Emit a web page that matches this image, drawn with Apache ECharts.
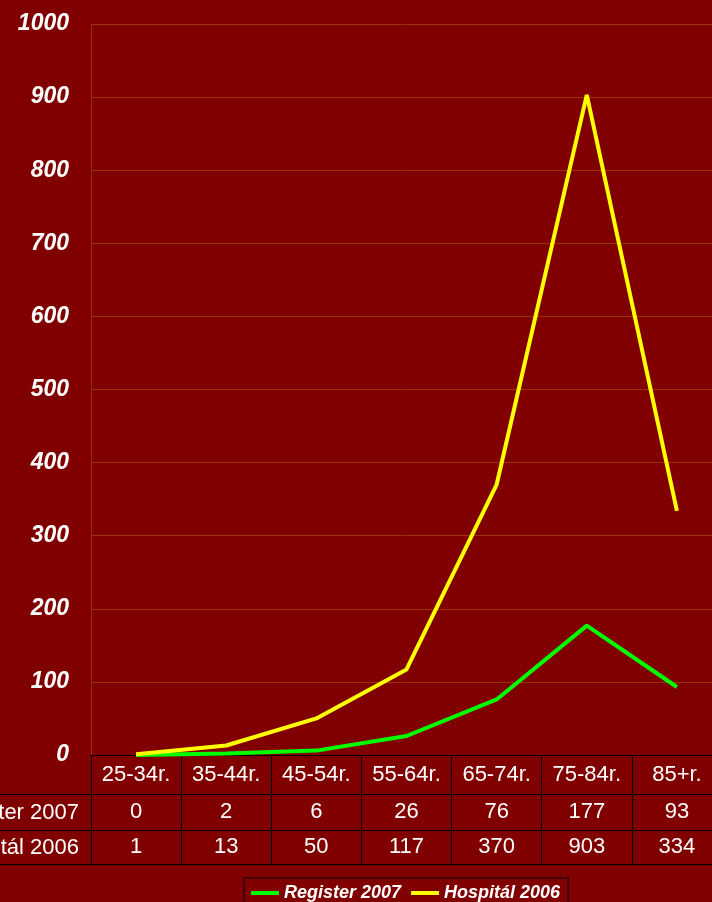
<!DOCTYPE html>
<html><head><meta charset="utf-8">
<script src="https://cdn.jsdelivr.net/npm/echarts@6/dist/echarts.min.js"></script>
<style>html,body{margin:0;padding:0;background:#800000;overflow:hidden;width:712px;height:902px}#c{width:722px;height:902px}</style>
</head><body><div id="c"></div>
<script>
const categories = ['25-34r.','35-44r.','45-54r.','55-64r.','65-74r.','75-84r.','85+r.'];
const register2007 = [0, 2, 6, 26, 76, 177, 93];
const hospital2006 = [1, 13, 50, 117, 370, 903, 334];
const seriesNames = ['Register 2007', 'Hospitál 2006'];
const yTicks = {min: 0, max: 1000, interval: 100};

const FONT = "'Liberation Sans', Arial, sans-serif";
const chart = echarts.init(document.getElementById('c'), null, {renderer: 'canvas'});
const tableLabel = {color: '#fff', fontSize: 22, fontFamily: FONT, lineHeight: 22, interval: 0};
chart.setOption({
  backgroundColor: '#800000',
  animation: false,
  grid: {left: 91, right: 0, top: 24, bottom: 147, containLabel: false},
  legend: {
    data: seriesNames, left: 244, top: 878, orient: 'horizontal',
    icon: 'rect', itemWidth: 28, itemHeight: 4, itemGap: 10,
    padding: [5, 8, 5, 7], borderColor: '#000', borderWidth: 1,
    textStyle: {color: '#fff', fontSize: 18, fontWeight: 'bold', fontStyle: 'italic', fontFamily: FONT, lineHeight: 20}
  },
  xAxis: [
    {type: 'category', data: categories, boundaryGap: true,
     axisLine: {show: true, lineStyle: {color: '#000', width: 1}},
     axisTick: {show: true, length: 109, lineStyle: {color: '#000', width: 1}},
     axisLabel: Object.assign({margin: 9}, tableLabel), splitLine: {show: false}},
    {type: 'category', data: register2007.map(String), position: 'bottom', offset: 39,
     axisLine: {show: false}, axisTick: {show: false},
     axisLabel: Object.assign({margin: 7}, tableLabel)},
    {type: 'category', data: hospital2006.map(String), position: 'bottom', offset: 75,
     axisLine: {show: false}, axisTick: {show: false},
     axisLabel: Object.assign({margin: 6}, tableLabel)}
  ],
  yAxis: {
    type: 'value', min: yTicks.min, max: yTicks.max, interval: yTicks.interval,
    axisLine: {show: true, lineStyle: {color: '#993300', width: 1}},
    axisTick: {show: false},
    splitLine: {show: true, lineStyle: {color: '#993300', width: 1}},
    axisLabel: {color: '#fff', fontSize: 23, fontWeight: 'bold', fontStyle: 'italic', fontFamily: FONT, margin: 22,
                formatter: v => String(v)}
  },
  series: [
    {name: seriesNames[0], type: 'line', data: register2007, xAxisIndex: 0, symbol: 'none',
     lineStyle: {color: '#00ff00', width: 4}, itemStyle: {color: '#00ff00'}, z: 3},
    {name: seriesNames[1], type: 'line', data: hospital2006, xAxisIndex: 0, symbol: 'none',
     lineStyle: {color: '#ffff00', width: 4}, itemStyle: {color: '#ffff00'}, z: 4}
  ],
  graphic: [
    {type: 'line', shape: {x1: 0, y1: 794.5, x2: 722, y2: 794.5}, style: {stroke: '#000', lineWidth: 1}},
    {type: 'line', shape: {x1: 0, y1: 830.5, x2: 722, y2: 830.5}, style: {stroke: '#000', lineWidth: 1}},
    {type: 'line', shape: {x1: 0, y1: 864.5, x2: 722, y2: 864.5}, style: {stroke: '#000', lineWidth: 1}},
    {type: 'text', x: 79, y: 813, style: {text: seriesNames[0], fill: '#fff', font: '22px ' + FONT, textAlign: 'right', textVerticalAlign: 'middle'}},
    {type: 'text', x: 79, y: 848, style: {text: seriesNames[1], fill: '#fff', font: '22px ' + FONT, textAlign: 'right', textVerticalAlign: 'middle'}}
  ]
});
</script></body></html>
